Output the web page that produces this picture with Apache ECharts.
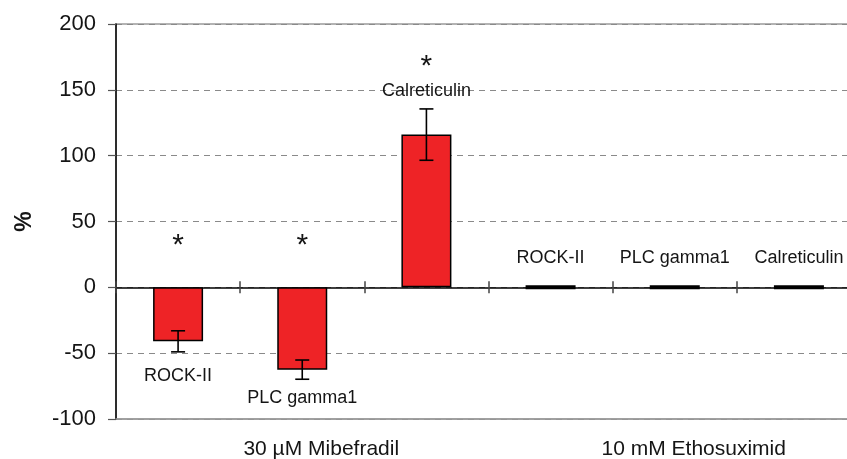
<!DOCTYPE html>
<html><head><meta charset="utf-8">
<script src="https://cdn.jsdelivr.net/npm/echarts@6/dist/echarts.min.js"></script>
<style>html,body{margin:0;padding:0;background:#fff}#c{width:847px;height:459px}</style>
</head><body><div id="c"></div>
<script>
// ---- data ----
const categories = ['ROCK-II', 'PLC gamma1', 'Calreticulin', 'ROCK-II', 'PLC gamma1', 'Calreticulin'];
const values = [-41, -62.5, 116, 0, 0, 0];
const errors = [8, 7.3, 19.5, 0, 0, 0];
const significant = [1, 1, 1, 0, 0, 0];
const groups = ['30 µM Mibefradil', '10 mM Ethosuximid'];
const yMin = -100, yMax = 200, yStep = 50;
const yName = '%';

// ---- style ----
const labelGap = [26, 19, 35, 18, 18, 18];
const FONT = '"Liberation Sans", Arial, sans-serif';
const RED = '#ee2326';
const INK = '#151515';

const chart = echarts.init(document.getElementById('c'), null, { renderer: 'canvas' });

const barData = values.map((v, i) => ({
  value: v,
  itemStyle: v === 0 ? { borderWidth: 4 } : {},
  label: { position: v < 0 ? 'bottom' : 'top', distance: labelGap[i] }
}));

const option = {
  animation: false,
  backgroundColor: '#fff',
  grid: { left: 116, top: 24, width: 745, bottom: 40, outerBoundsMode: 'none', containLabel: false,
          show: true, borderColor: '#9a9a9a', borderWidth: 1.5 },
  xAxis: [
    {
      type: 'category', data: categories, position: 'bottom',
      axisLine: { show: true, onZero: true, onZeroAxisIndex: 0, lineStyle: { color: '#000', width: 1.5 } },
      axisTick: { show: true, length: 6, lineStyle: { color: '#444', width: 1.5 } },
      axisLabel: { show: false }, splitLine: { show: false }
    },
    {
      type: 'category', data: categories, position: 'bottom',
      axisLine: { show: false, onZero: true, onZeroAxisIndex: 0 },
      axisTick: { show: true, inside: true, length: 6, lineStyle: { color: '#444', width: 1.5 } },
      axisLabel: { show: false }, splitLine: { show: false }
    },
    {
      type: 'category', data: groups, position: 'bottom',
      axisLine: { show: true, onZero: false, lineStyle: { color: '#9a9a9a', width: 1.5 } },
      axisTick: { show: false },
      axisLabel: { fontSize: 21, fontFamily: FONT, color: INK, margin: 20, padding: [0, 0, 0, 38] },
      splitLine: { show: false }
    }
  ],
  yAxis: {
    type: 'value', min: yMin, max: yMax, interval: yStep,
    name: yName, nameLocation: 'middle', nameGap: 80,
    nameTextStyle: { fontSize: 23, fontWeight: 'bold', fontFamily: FONT, color: INK },
    axisLine: { show: true, onZero: false, lineStyle: { color: '#000', width: 1.5 } },
    axisTick: { show: true, length: 8, lineStyle: { color: '#555', width: 1.2 } },
    axisLabel: { fontSize: 22, fontFamily: FONT, color: INK, margin: 20 },
    splitLine: { show: true, lineStyle: { color: '#8a8a8a', width: 1, type: [6, 5] } }
  },
  series: [
    {
      type: 'bar', xAxisIndex: 0, data: barData, barWidth: 50,
      itemStyle: { color: RED, borderColor: '#000', borderWidth: 1.5 },
      label: {
        show: true, fontSize: 18, fontFamily: FONT, color: INK,
        formatter: p => categories[p.dataIndex]
      },
      z: 3
    },
    {
      type: 'custom', xAxisIndex: 0, z: 5,
      data: values.map((v, i) => [i, v, errors[i]]),
      renderItem: (params, api) => {
        const i = api.value(0), v = api.value(1), e = api.value(2);
        if (!e) return null;
        const top = api.coord([i, v + e]), bot = api.coord([i, v - e]);
        const cap = 7;
        const st = { stroke: '#000', lineWidth: 1.6 };
        return {
          type: 'group', children: [
            { type: 'line', shape: { x1: top[0], y1: top[1], x2: bot[0], y2: bot[1] }, style: st },
            { type: 'line', shape: { x1: top[0] - cap, y1: top[1], x2: top[0] + cap, y2: top[1] }, style: st },
            { type: 'line', shape: { x1: bot[0] - cap, y1: bot[1], x2: bot[0] + cap, y2: bot[1] }, style: st }
          ]
        };
      }
    },
    {
      type: 'custom', xAxisIndex: 0, z: 6,
      data: values.map((v, i) => [i, v, errors[i], significant[i]]),
      renderItem: (params, api) => {
        const i = api.value(0), v = api.value(1), e = api.value(2), s = api.value(3);
        if (!s) return null;
        const p = api.coord([i, Math.max(0, v + e)]);
        return {
          type: 'text', x: p[0], y: p[1] - 47 + 5,
          style: { text: '*', fontSize: 30, fontFamily: FONT, fill: INK, align: 'center', verticalAlign: 'middle' }
        };
      }
    }
  ]
};
chart.setOption(option);
</script>
</body></html>
